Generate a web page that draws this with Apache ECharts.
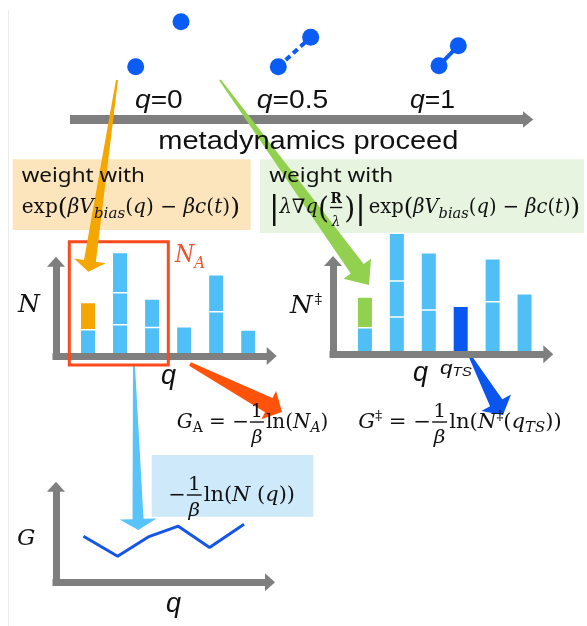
<!DOCTYPE html>
<html><head><meta charset="utf-8">
<script src="https://cdn.jsdelivr.net/npm/echarts@6/dist/echarts.min.js"></script>
<style>html,body{margin:0;padding:0;background:#fff}#c{width:587px;height:626px}</style>
</head><body><div id="c"></div>
<script>
// ---------- data ----------
const qBins = [1, 2, 3, 4, 5, 6];
// histogram N(q) for state A (stacked weighted samples)
const nA_seg1 = [27, 32, 29.3, 30, 45, 26.7];
const nA_seg2 = [27.3, 32, 28.4, null, 37, null];
const nA_seg3 = [null, 40.3, null, null, null, null];
// histogram N‡(q)
const nTS_seg1 = [27.3, 38, 45, 48.7, 53.3, 61.3];
const nTS_seg2 = [30.7, 36, 57.3, null, 43, null];
const nTS_seg3 = [null, 47.7, null, null, null, null];
// free energy profile G(q)
const gQ = [0.86, 1.93, 2.89, 3.83, 4.81, 5.89];
const gValues = [46, 26, 45.3, 56, 34.7, 58];
// stage labels
const stageLabels = ['0', '0.5', '1'];

// ---------- styles ----------
const GRAY = '#7f7f7f', LBLUE = '#4fbff6', DBLUE = '#0a57f0', ORANGE = '#f4a700',
      GREEN = '#92d050', RED = '#fa4a1e', ATOM = '#0a5cf5';
const M = 'DejaVu Serif', SANS = 'Liberation Sans', NS = 'Noto Sans';

const cv = document.createElement('canvas').getContext('2d');
function fontOf(p, fam, size) {
  return (p.i ? 'italic ' : '') + (p.b ? 'bold ' : '') + (p.s || size) + 'px "' + (p.f || fam) + '"';
}
function lay(items, fam, size, color) {
  let x = 0; const els = [];
  items.forEach(p => {
    if (p.frac) {
      const fs = p.s || size;
      const n = lay(p.frac[0], fam, fs, color), d = lay(p.frac[1], fam, fs, color);
      const w = Math.max(n.w, d.w) + (p.pad || 4);
      n.els.forEach(e => { e.x += x + (w - n.w) / 2; if (e.type === 'text') e.y += p.nb; els.push(e); });
      d.els.forEach(e => { e.x += x + (w - d.w) / 2; if (e.type === 'text') e.y += p.db; els.push(e); });
      els.push({ type: 'rect', x: x + 1, y: p.bar - 0.7, shape: { x: 0, y: 0, width: w - 2, height: 1.4 }, style: { fill: color } });
      x += w + (p.sp || 1);
    } else {
      const f = fontOf(p, fam, size);
      cv.font = f; cv.textBaseline = 'middle';
      const m = cv.measureText(p.t);
      const off = cv.measureText('H').actualBoundingBoxDescent;
      els.push({ type: 'text', x: x, y: (p.dy || 0) - off,
        style: { text: p.t, font: f, fill: p.c || color, align: 'left', verticalAlign: 'middle', textAlign: 'left', textVerticalAlign: 'middle' } });
      x += m.width + (p.sp || 0);
    }
  });
  return { els, w: x };
}
function textGroup(items, o) {
  const r = lay(items, o.fam, o.size, o.color || '#111');
  const sx = o.right != null ? (o.right - o.left) / r.w : 1;
  const z = o.z || 10;
  return { type: 'group', x: o.left, y: o.base, scaleX: sx, children: r.els.map(e => Object.assign(e, { z: z })) };
}
function taper(S, T, w0, w1, hw, hl, color, z) {
  const dx = T[0] - S[0], dy = T[1] - S[1], L = Math.hypot(dx, dy);
  const u = [dx / L, dy / L], n = [-u[1], u[0]];
  const B = [T[0] - u[0] * hl, T[1] - u[1] * hl];
  const P = (b, k) => [b[0] + n[0] * k, b[1] + n[1] * k];
  return { type: 'polygon', z: z, shape: { points: [P(S, w0 / 2), P(B, w1 / 2), P(B, hw / 2), T, P(B, -hw / 2), P(B, -w1 / 2), P(S, -w0 / 2)] }, style: { fill: color } };
}

// ---------- series: stacked segments drawn as overlapping cumulative bars ----------
function stackSeries(name, gi, segs, overrides) {
  const cum = segs.map((_, k) => qBins.map((q, i) => {
    let s = 0, any = false;
    for (let j = 0; j <= k; j++) { if (segs[j][i] != null) { s += segs[j][i]; if (j === k) any = true; } }
    return any ? s : null;
  }));
  const out = [];
  for (let k = segs.length - 1; k >= 0; k--) {
    out.push({
      type: 'bar', name: name + k, xAxisIndex: gi, yAxisIndex: gi, barWidth: 17, barGap: '-100%', clip: false,
      itemStyle: { color: LBLUE, borderColor: '#fff', borderWidth: 1.5 },
      data: cum[k].map((v, i) => {
        const item = { value: [qBins[i], v == null ? '-' : v] };
        const ov = overrides[k + ',' + i];
        if (ov) item.itemStyle = { color: ov };
        return item;
      })
    });
  }
  return out;
}
const series = [
  ...stackSeries('A', 0, [nA_seg1, nA_seg2, nA_seg3], { '1,0': ORANGE }),
  ...stackSeries('TS', 1, [nTS_seg1, nTS_seg2, nTS_seg3], { '1,0': GREEN, '0,3': DBLUE }),
  { type: 'line', xAxisIndex: 2, yAxisIndex: 2, data: gQ.map((q, i) => [q, gValues[i]]), symbol: 'none', clip: false,
    lineStyle: { color: '#1656e6', width: 3 } }
];

function axisLine() {
  return { show: true, onZero: false, symbol: ['none', 'triangle'], symbolSize: [18, 10], symbolOffset: [0, 3],
    lineStyle: { color: GRAY, width: 7, cap: 'square' } };
}
function ax(gi, max) {
  return { gridIndex: gi, type: 'value', min: 0, max: max, z: 5, axisLine: axisLine(), axisTick: { show: false }, axisLabel: { show: false }, splitLine: { show: false } };
}

// ---------- graphics ----------
const G = [];
G.push({ type: 'line', z: 0, shape: { x1: 8.5, y1: 10, x2: 8.5, y2: 626 }, style: { stroke: '#ececec', lineWidth: 1 } });
G.push({ type: 'rect', z: 0, shape: { x: 12.7, y: 159.3, width: 238, height: 70.7 }, style: { fill: '#fce5bc' } });
G.push({ type: 'rect', z: 0, shape: { x: 260, y: 159.3, width: 324, height: 73.7 }, style: { fill: '#e7f4e0' } });
G.push({ type: 'rect', z: 0, shape: { x: 151.7, y: 455, width: 161.6, height: 61.7 }, style: { fill: '#cde9fa' } });
// tapered arrows
G.push(taper([117, 80], [88.3, 271.7], 2, 12, 32, 11, ORANGE, 9));
G.push(taper([220, 80], [369, 285], 2, 16, 34, 20, GREEN, 9));
G.push(taper([134, 366], [138.3, 530], 2, 11, 37, 11, '#58c4fa', 1));
G.push(taper([190, 364], [282, 412], 4, 16, 32, 15, '#ff520a', 1));
G.push(taper([470, 356], [503, 415], 3, 14, 34, 14, '#0a55ee', 1));
// time arrow
G.push({ type: 'rect', z: 3, shape: { x: 70, y: 115, width: 454, height: 9 }, style: { fill: GRAY } });
G.push({ type: 'polygon', z: 3, shape: { points: [[523, 111.2], [533.3, 119.5], [523, 127.8]] }, style: { fill: GRAY } });
// molecules
G.push({ type: 'circle', z: 3, shape: { cx: 135.7, cy: 66.7, r: 8.5 }, style: { fill: ATOM } });
G.push({ type: 'circle', z: 3, shape: { cx: 181, cy: 21.7, r: 8.5 }, style: { fill: ATOM } });
G.push({ type: 'line', z: 3, shape: { x1: 278.3, y1: 66.7, x2: 310.7, y2: 37.3 }, style: { stroke: ATOM, lineWidth: 4, lineDash: [6, 4] } });
G.push({ type: 'circle', z: 3, shape: { cx: 278.3, cy: 66.7, r: 8.5 }, style: { fill: ATOM } });
G.push({ type: 'circle', z: 3, shape: { cx: 310.7, cy: 37.3, r: 8.5 }, style: { fill: ATOM } });
G.push({ type: 'line', z: 3, shape: { x1: 439, y1: 65.7, x2: 458.3, y2: 45.7 }, style: { stroke: ATOM, lineWidth: 4 } });
G.push({ type: 'circle', z: 3, shape: { cx: 439, cy: 65.7, r: 8.5 }, style: { fill: ATOM } });
G.push({ type: 'circle', z: 3, shape: { cx: 458.3, cy: 45.7, r: 8.5 }, style: { fill: ATOM } });
// region A box
G.push({ type: 'rect', z: 8, shape: { x: 69.3, y: 241.7, width: 99, height: 123.3 }, style: { fill: 'none', stroke: RED, lineWidth: 3 } });

// texts
const stageX = [[135, 182.7], [256.7, 328.3], [410, 455]];
stageLabels.forEach((s, k) => G.push(textGroup([{ t: 'q', i: 1 }, { t: '=' + s }], { fam: SANS, size: 25, left: stageX[k][0], right: stageX[k][1], base: 108 })));
G.push(textGroup([{ t: 'metadynamics proceed' }], { fam: SANS, size: 25, left: 158.3, right: 458.3, base: 149 }));
G.push(textGroup([{ t: 'weight with' }], { fam: NS, size: 20, left: 21.7, right: 145, base: 181.7 }));
G.push(textGroup([{ t: 'weight with' }], { fam: NS, size: 20, left: 269.3, right: 393.3, base: 181.7 }));
const expPart = [{ t: 'exp' }, { t: '(', s: 25, dy: 2 }, { t: 'β', i: 1 }, { t: 'V', i: 1 }, { t: 'bias', i: 1, s: 15, dy: 5 }, { t: '(' }, { t: 'q', i: 1 }, { t: ')' },
  { t: ' − ' }, { t: 'β', i: 1 }, { t: 'c', i: 1 }, { t: '(' }, { t: 't', i: 1 }, { t: ')' }, { t: ')', s: 25, dy: 2 }];
G.push(textGroup(expPart, { fam: M, size: 20, left: 21.7, right: 240, base: 213 }));
G.push(textGroup([{ t: '|', s: 32, dy: 5 }, { t: 'λ', i: 1 }, { t: '∇' }, { t: 'q', i: 1 }, { t: '(', s: 29, dy: 5 },
  { frac: [[{ t: 'R', b: 1 }], [{ t: 'λ', i: 1 }]], s: 14, nb: -10, db: 13, bar: -5.5, pad: 3 },
  { t: ')', s: 29, dy: 5 }, { t: '|', s: 32, dy: 5, sp: 3 }].concat(expPart), { fam: M, size: 20, left: 269, right: 580, base: 213 }));
const fr = { frac: [[{ t: '1' }], [{ t: 'β', i: 1 }]], s: 19, nb: -11, db: 15, bar: -6, pad: 4 };
G.push(textGroup([{ t: 'G', i: 1 }, { t: 'A', s: 14, dy: 4 }, { t: ' = −' }, fr, { t: 'ln(' }, { t: 'N', i: 1 }, { t: 'A', i: 1, s: 14, dy: 4 }, { t: ')' }],
  { fam: M, size: 20, left: 176.7, right: 328.3, base: 428 }));
G.push(textGroup([{ t: 'G', i: 1 }, { t: '‡', s: 13, dy: -8 }, { t: ' = −' }, fr, { t: 'ln(' }, { t: 'N', i: 1 }, { t: '‡', s: 13, dy: -8 }, { t: '(' }, { t: 'q', i: 1 }, { t: 'TS', i: 1, s: 14, dy: 4 }, { t: '))' }],
  { fam: M, size: 20, left: 358.3, right: 561.7, base: 428 }));
G.push(textGroup([{ t: '−' }, fr, { t: 'ln(' }, { t: 'N', i: 1 }, { t: ' (' }, { t: 'q', i: 1 }, { t: '))' }],
  { fam: M, size: 20, left: 168.3, right: 295, base: 501 }));
// axis titles
G.push(textGroup([{ t: 'N', i: 1 }], { fam: M, size: 25, left: 18, base: 311.7 }));
G.push(textGroup([{ t: 'N', i: 1 }, { t: 'A', i: 1, s: 17, dy: 6 }], { fam: M, size: 25, left: 175, right: 205, base: 262, color: '#f0502a' }));
G.push(textGroup([{ t: 'N', i: 1, sp: 2 }, { t: '‡', s: 14, dy: -9 }], { fam: M, size: 25, left: 290, right: 322, base: 313 }));
G.push(textGroup([{ t: 'G', i: 1 }], { fam: M, size: 23, left: 17, base: 545 }));
G.push(textGroup([{ t: 'q', i: 1 }], { fam: SANS, size: 27, left: 161, base: 384 }));
G.push(textGroup([{ t: 'q', i: 1 }], { fam: SANS, size: 27, left: 413, base: 381 }));
G.push(textGroup([{ t: 'q', i: 1, s: 18 }, { t: 'TS', i: 1, s: 12, dy: 2 }], { fam: SANS, size: 18, left: 440, right: 471.7, base: 374 }));
G.push(textGroup([{ t: 'q', i: 1 }], { fam: SANS, size: 27, left: 166, base: 612 }));

const chart = echarts.init(document.getElementById('c'), null, { renderer: 'canvas' });
chart.setOption({
  animation: false,
  backgroundColor: '#fff',
  grid: [
    { left: 56, top: 264.7, width: 212.7, height: 91.3, outerBoundsMode: 'none' },
    { left: 333, top: 264, width: 212.3, height: 90.2, outerBoundsMode: 'none' },
    { left: 56, top: 489.7, width: 211, height: 92.5, outerBoundsMode: 'none' }
  ],
  xAxis: [ax(0, 6.64), ax(1, 6.65), ax(2, 6.61)],
  yAxis: [ax(0, 91.3), ax(1, 90.2), ax(2, 92.5)],
  series: series,
  graphic: { elements: G }
});
</script>
</body></html>
